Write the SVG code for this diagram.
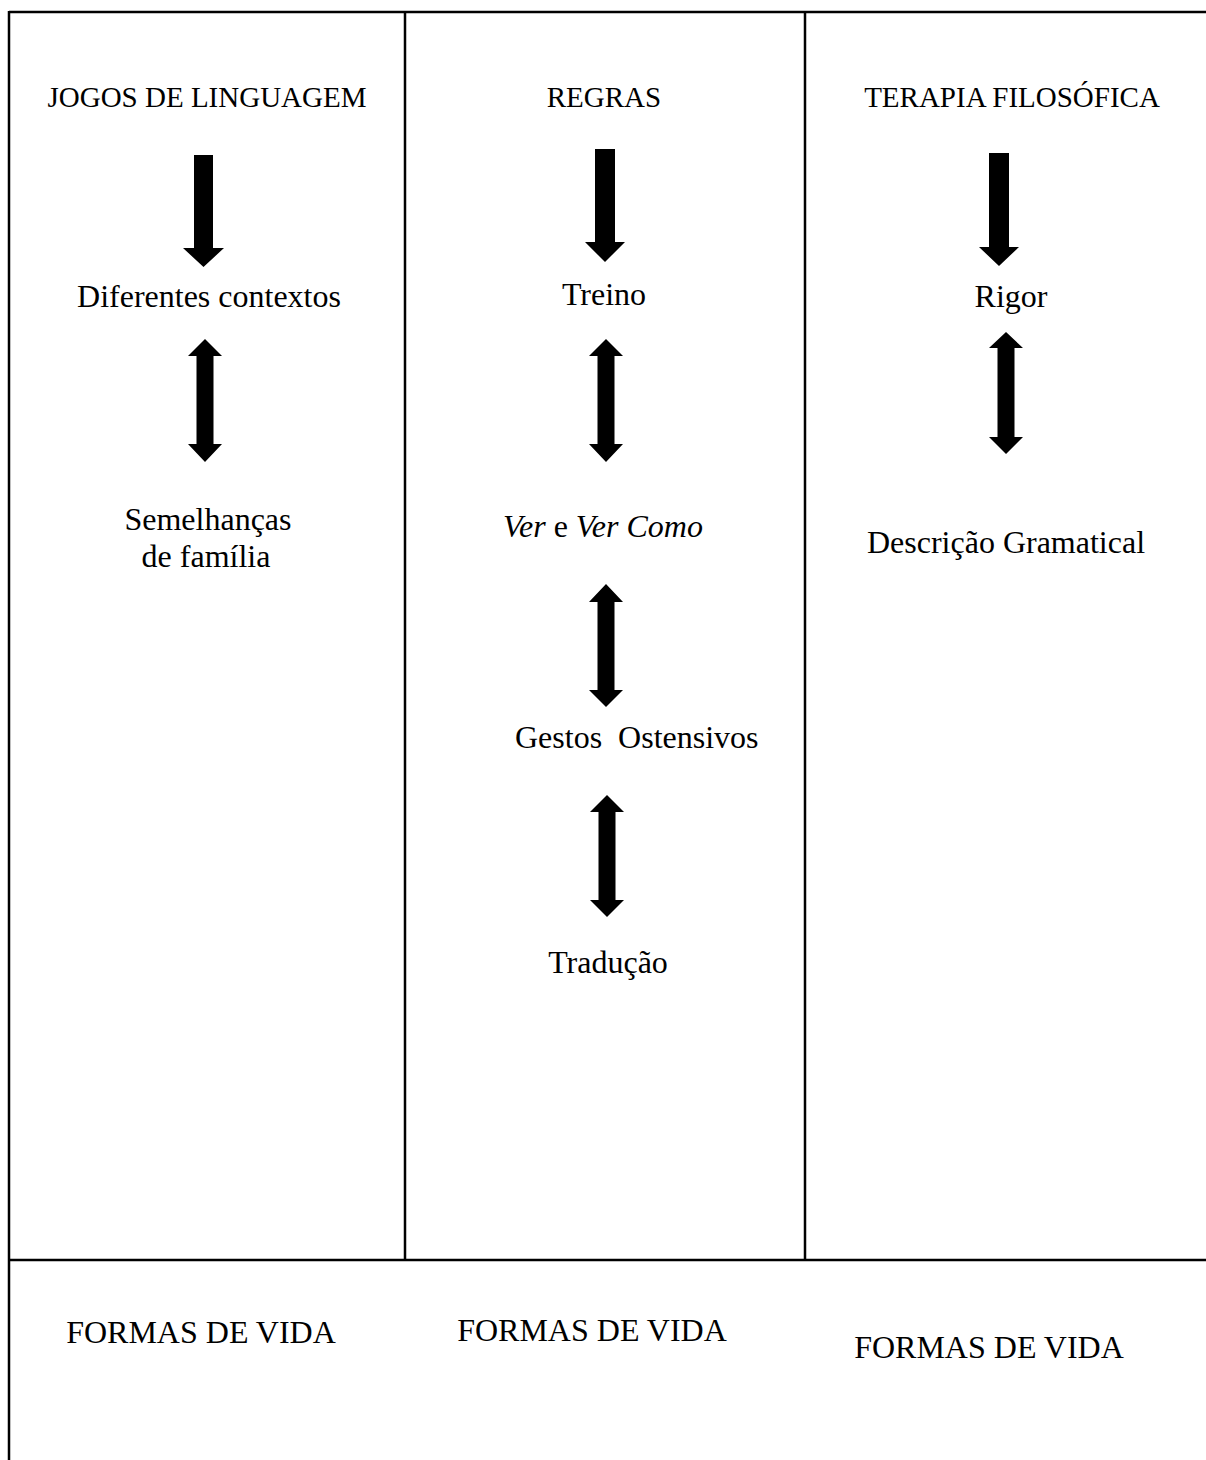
<svg xmlns="http://www.w3.org/2000/svg" width="1206" height="1460" viewBox="0 0 1206 1460">
<style>
  .frame { stroke: #000; stroke-width: 2.5; fill: none; }
  .arrow { fill: #000; stroke: none; }
  text { font-family: "Liberation Serif", "Times New Roman", serif; fill: #000; }
  .head { font-size: 29px; text-anchor: middle; }
  .body { font-size: 32px; text-anchor: middle; }
  .it { font-style: italic; }
</style>
<rect width="1206" height="1460" fill="#fff"/>
<g id="frame">
  <line class="frame" x1="9" y1="12" x2="1206" y2="12"/>
  <line class="frame" x1="9" y1="11" x2="9" y2="1460"/>
  <line class="frame" x1="405" y1="12" x2="405" y2="1260"/>
  <line class="frame" x1="805" y1="12" x2="805" y2="1260"/>
  <line class="frame" x1="9" y1="1260" x2="1206" y2="1260"/>
</g>
<g id="n-jogos"><text class="head" x="207" y="107">JOGOS DE LINGUAGEM</text></g>
<g id="n-regras"><text class="head" x="604" y="107">REGRAS</text></g>
<g id="n-terapia"><text class="head" x="1012" y="107">TERAPIA FILOSÓFICA</text></g>
<g id="n-diferentes"><text class="body" x="209" y="307">Diferentes contextos</text></g>
<g id="n-treino"><text class="body" x="604" y="305">Treino</text></g>
<g id="n-rigor"><text class="body" x="1011" y="307">Rigor</text></g>
<g id="n-semelhancas"><text class="body" x="208" y="530">Semelhanças</text><text class="body" x="206" y="567">de família</text></g>
<g id="n-ver"><text x="503" y="537" style="font-size:32px"><tspan class="it">Ver</tspan> e <tspan class="it">Ver Como</tspan></text></g>
<g id="n-descricao"><text class="body" x="1006" y="553">Descrição Gramatical</text></g>
<g id="n-gestos"><text x="515" y="748" style="font-size:32px">Gestos&#160; Ostensivos</text></g>
<g id="n-traducao"><text class="body" x="608" y="973">Tradução</text></g>
<g id="n-formas1"><text class="body" x="201" y="1343">FORMAS DE VIDA</text></g>
<g id="n-formas2"><text class="body" x="592" y="1341">FORMAS DE VIDA</text></g>
<g id="n-formas3"><text class="body" x="989" y="1358">FORMAS DE VIDA</text></g>
<g id="connectors">
  <polygon class="arrow" points="194,155 213,155 213,248 224,248 203.5,267 183,248 194,248"/>
  <polygon class="arrow" points="595,149 615,149 615,242 625,242 605,262 585,242 595,242"/>
  <polygon class="arrow" points="989,153 1009,153 1009,247 1019,247 999,266 979,247 989,247"/>
  <polygon class="arrow" points="205,339 222,356 213.5,356 213.5,444 222,444 205,462 188,444 196.5,444 196.5,356 188,356"/>
  <polygon class="arrow" points="606,339 623,356 614.5,356 614.5,444 623,444 606,462 589,444 597.5,444 597.5,356 589,356"/>
  <polygon class="arrow" points="606,584 623,602 614.5,602 614.5,690 623,690 606,707 589,690 597.5,690 597.5,602 589,602"/>
  <polygon class="arrow" points="607,795 624,812 615.5,812 615.5,900 624,900 607,917 590,900 598.5,900 598.5,812 590,812"/>
  <polygon class="arrow" points="1006,332 1023,348 1014.5,348 1014.5,437 1023,437 1006,454 989,437 997.5,437 997.5,348 989,348"/>
</g>
</svg>
